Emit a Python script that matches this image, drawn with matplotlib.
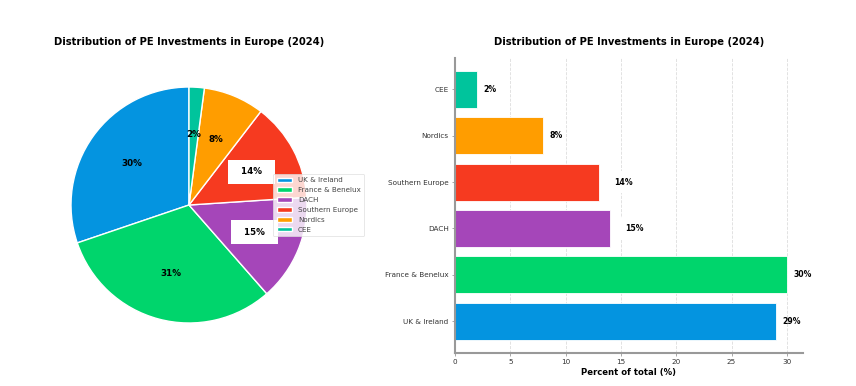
import matplotlib
matplotlib.use("Agg")
import matplotlib.pyplot as plt

regions = ["UK & Ireland", "France & Benelux", "DACH", "Southern Europe", "Nordics", "CEE"]
shares = [29, 30, 14, 13, 8, 2]
bar_labels = ["29%", "30%", "15%", "14%", "8%", "2%"]
boxed = [False, False, True, True, False, False]
colors = ["#0494e0", "#00d56c", "#a546b9", "#f63a20", "#ff9d00", "#00c49c"]
title = "Distribution of PE Investments in Europe (2024)"
xticks = [0, 5, 10, 15, 20, 25, 30]

fig = plt.figure(figsize=(8.56, 3.86), dpi=100)

# ---- Pie ----
axp = fig.add_axes([0.0485, 0.0868, 0.3446, 0.7642])
wedges, texts, autotexts = axp.pie(
    shares, colors=colors, startangle=90, counterclock=True,
    autopct="%1.0f%%", pctdistance=0.6,
    wedgeprops=dict(edgecolor="white", linewidth=1.0),
    textprops=dict(fontsize=6.3, fontweight="bold", color="black"))
for t, b in zip(autotexts, boxed):
    if b:
        t.set_text("  " + t.get_text() + "  ")
        t.set_bbox(dict(boxstyle="square,pad=0.85", facecolor="white", edgecolor="none"))
axp.set_aspect("equal")
axp.set_title(title, fontsize=7.2, fontweight="bold", pad=9)
leg = axp.legend(wedges, regions, loc="center left", bbox_to_anchor=(0.785, 0.5),
                 fontsize=5.1, frameon=True, handlelength=2.2, handleheight=0.6,
                 labelspacing=0.55, borderpad=0.5, borderaxespad=0.0)
leg.get_frame().set_edgecolor("#dddddd")
leg.get_frame().set_linewidth(0.6)
for txt in leg.get_texts():
    txt.set_color("#444444")

# ---- Bar ----
axb = fig.add_axes([0.5315, 0.0855, 0.4065, 0.7655])
ypos = list(range(len(regions)))
bars = axb.barh(ypos, shares, height=0.8, color=colors, edgecolor="white", linewidth=0.6, zorder=2)
axb.set_yticks(ypos)
axb.set_yticklabels(regions, fontsize=5.2, color="#333333")
axb.set_xticks(xticks)
axb.set_xticklabels([str(v) for v in xticks], fontsize=5.2, color="#333333")
axb.set_xlim(0, 31.45)
axb.set_xlabel("Percent of total (%)", fontsize=6.1, fontweight="bold", labelpad=2)
axb.set_title(title, fontsize=7.2, fontweight="bold", pad=9)
axb.grid(axis="x", linestyle="--", color="#dddddd", linewidth=0.6, zorder=0)
axb.set_axisbelow(True)
for s in ["top", "right"]:
    axb.spines[s].set_visible(False)
for s in ["left", "bottom"]:
    axb.spines[s].set_color("#999999")
    axb.spines[s].set_linewidth(1.5)
axb.tick_params(axis="both", length=2.5, width=0.6, color="#999999", pad=2)

for v, y, lab, b in zip(shares, ypos, bar_labels, boxed):
    if b:
        axb.annotate(lab, xy=(v, y), xytext=(11, 0), textcoords="offset points",
                     ha="left", va="center", fontsize=5.6, fontweight="bold", zorder=3,
                     bbox=dict(boxstyle="square,pad=0.8", facecolor="white", edgecolor="none"))
    else:
        axb.annotate(lab, xy=(v, y), xytext=(4.5, 0), textcoords="offset points",
                     ha="left", va="center", fontsize=5.6, fontweight="bold", zorder=3)

fig.savefig("out.png", dpi=100, facecolor="white")
